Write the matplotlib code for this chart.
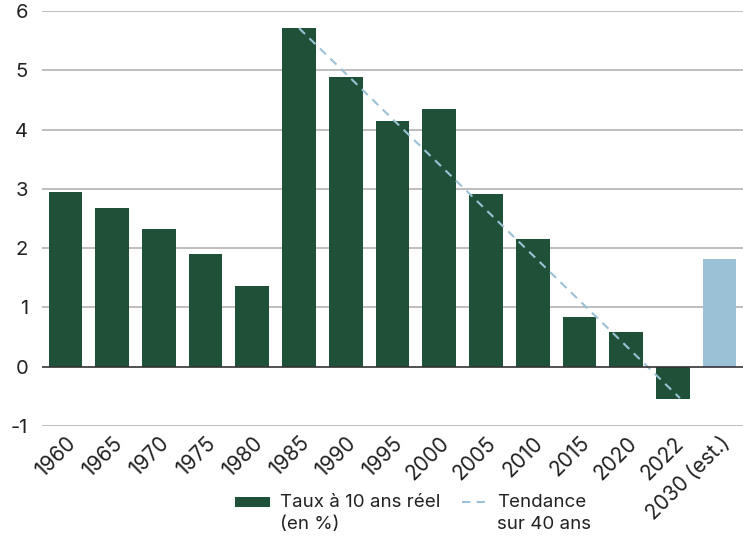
import numpy as np
import matplotlib.pyplot as plt
from matplotlib.patches import Patch, Rectangle
from matplotlib.lines import Line2D
from matplotlib.legend_handler import HandlerBase
from matplotlib.ticker import FuncFormatter

plt.rcParams['font.family'] = ['Inter', 'DejaVu Sans']

# 10-year real rate by period (%)
periods = ['1960', '1965', '1970', '1975', '1980', '1985', '1990', '1995',
           '2000', '2005', '2010', '2015', '2020', '2022', '2030 (est.)']
real_rate = [2.94, 2.68, 2.32, 1.90, 1.36, 5.71, 4.88, 4.14,
             4.35, 2.91, 2.16, 0.84, 0.58, -0.54, 1.81]
is_estimate = [False] * 14 + [True]

# 40-year trend line (start at 1985, end at 2022)
trend_x = [5, 13.15]
trend_y = [5.71, -0.53]

dark_green = '#1e5137'
light_blue = '#9bc1d6'
trend_style = (0, (4, 3))


class RaisedHandler(HandlerBase):
    # legend key lined up with the first line of a two-line label
    def __init__(self, kind, shift=8.5):
        super().__init__()
        self.kind = kind
        self.shift = shift

    def create_artists(self, legend, orig_handle, xdescent, ydescent,
                       width, height, fontsize, trans):
        if self.kind == 'bar':
            h = height * 0.75
            art = Rectangle((-xdescent, -ydescent + (height - h) / 2 + self.shift),
                            width, h, facecolor=dark_green, edgecolor='none')
        else:
            # shorter dashed key, pushed to the right of its box
            y = -ydescent + height / 2 + self.shift
            art = Line2D([-xdescent + width * 0.3, width - xdescent], [y, y],
                         color=light_blue, lw=1.5, ls=trend_style)
        art.set_transform(trans)
        return [art]


fig = plt.figure(figsize=(7.43, 5.37), dpi=100)
ax = fig.add_axes([0.0565, 0.2067, 0.9435, 0.7728])

x = np.arange(len(periods))
colors = [light_blue if e else dark_green for e in is_estimate]
ax.bar(x, real_rate, width=0.72, color=colors, zorder=2)
ax.plot(trend_x, trend_y, color=light_blue, lw=1.5, ls=trend_style, zorder=3)

ax.set_xlim(-0.5, len(periods) - 0.5)
ax.set_ylim(-1, 6)
ax.set_yticks(range(-1, 7))
ax.yaxis.set_major_formatter(FuncFormatter(lambda v, p: '%d' % v))
for y in range(-1, 7):
    if y == 0:
        ax.axhline(y, color='#333333', lw=1.2, zorder=4)
    else:
        ax.axhline(y, color='#b3b3b3', lw=1.2, zorder=1)

for s in ax.spines.values():
    s.set_visible(False)
ax.tick_params(axis='y', length=0, pad=10, labelsize=14.5, labelcolor='#222222')
ax.tick_params(axis='x', length=0, pad=5, labelsize=15, labelcolor='#222222')
ax.set_xticks(x)
ax.set_xticklabels(periods, rotation=45, ha='right', rotation_mode='anchor')

bar_key = Patch(facecolor=dark_green)
trend_key = Line2D([0], [0], color=light_blue)
leg = fig.legend([bar_key, trend_key],
                 ['Taux à 10 ans réel\n(en %)', 'Tendance\nsur 40 ans'],
                 handler_map={bar_key: RaisedHandler('bar'),
                              trend_key: RaisedHandler('line')},
                 loc='lower center', bbox_to_anchor=(0.556, -0.024), ncol=2,
                 frameon=False, fontsize=13.5, handlelength=1.85, handleheight=0.8,
                 columnspacing=0.6, handletextpad=0.55, labelcolor='#222222')
for t in leg.get_texts():
    t.set_linespacing(1.35)

fig.savefig('out.png', dpi=100)
